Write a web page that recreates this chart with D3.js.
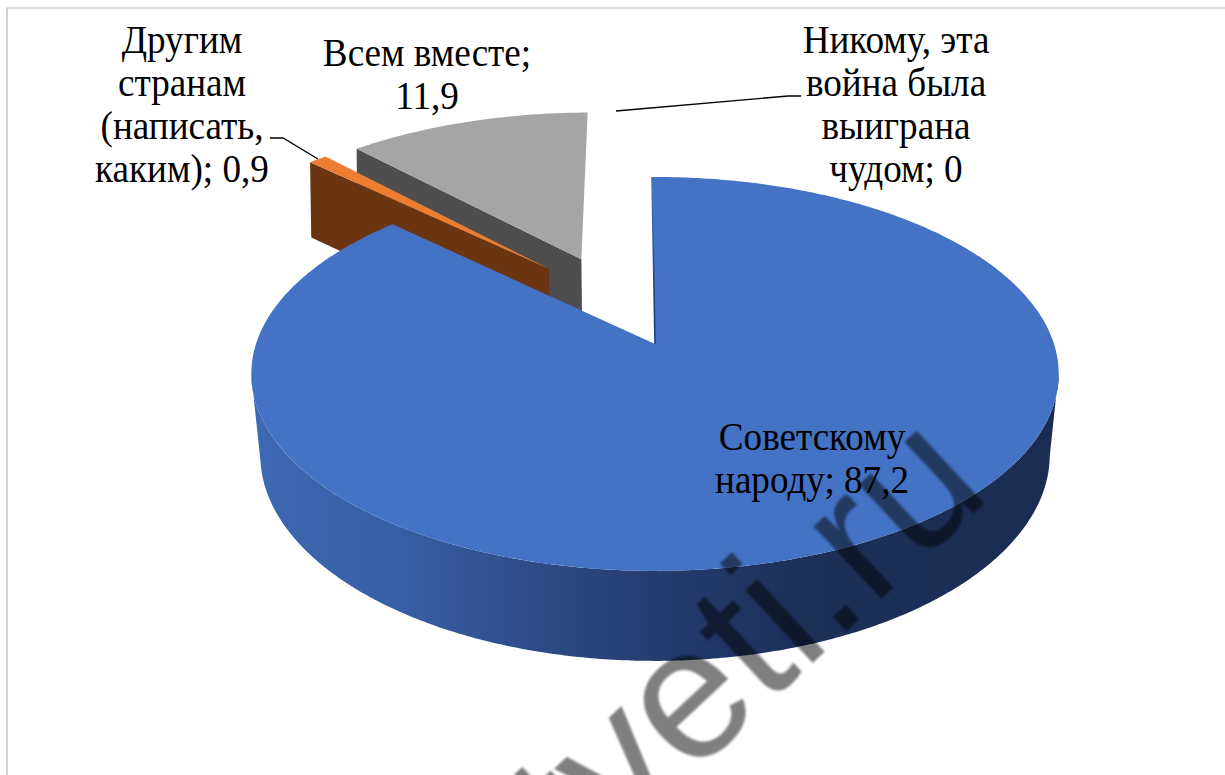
<!DOCTYPE html>
<html>
<head>
<meta charset="utf-8">
<style>
  html, body { margin: 0; padding: 0; background: #fff; overflow: hidden; }
  svg { display: block; }
  .label { font-family: "Liberation Serif", serif; font-size: 38.5px; fill: #000; text-anchor: middle; }
  .leader { fill: none; stroke: #000; stroke-width: 1.3; }
  .watermark { font-family: "Liberation Sans", sans-serif; font-size: 187px; fill: #000; fill-opacity: 0.5; }
</style>
</head>
<body>
<script src="https://cdn.jsdelivr.net/npm/d3@7"></script>
<script>

var categories = ["Советскому народу", "Другим странам (написать, каким)", "Всем вместе", "Никому, эта война была выиграна чудом"];
var values = [87.2, 0.9, 11.9, 0];
var labelLines = [
  ["Советскому", "народу; 87,2"],
  ["Другим", "странам", "(написать,", "каким); 0,9"],
  ["Всем вместе;", "11,9"],
  ["Никому, эта", "война была", "выиграна", "чудом; 0"]
];

var width = 1225, height = 775;
var cx = 655, cy = 344;          // pointed end of the big slice
var radiusX = 399, radiusY = 192.4, perspective = 0.152;
var explode = 0.256, turn = -0.5 * Math.PI / 180;

var topColors = d3.scaleOrdinal().domain(categories).range(["#4472c4", "#ed7d31", "#a5a5a5", "#ffc000"]);
var wallColors = d3.scaleOrdinal().domain(categories).range(["#1f3864", "#6b3512", "#4e4e4e", "#7f6000"]);

// where each label sits
var labelPlace = [
  { x: 812, y: 450 },
  { x: 182, y: 53 },
  { x: 427, y: 66 },
  { x: 896, y: 53 }
];
var leaders = [
  [[270, 138], [283, 138], [318, 159]],
  [[616, 111], [788, 96], [801, 96]]
];

var svg = d3.select("body").append("svg").attr("width", width).attr("height", height);
var defs = svg.append("defs");

var sideGrad = defs.append("linearGradient").attr("id", "side")
    .attr("gradientUnits", "userSpaceOnUse")
    .attr("x1", 252).attr("x2", 1060).attr("y1", 0).attr("y2", 0);
[[0, "#3e68b2"], [0.18, "#375fa5"], [0.32, "#304f8e"], [0.5, "#243c70"], [0.68, "#1c3058"], [1, "#1a2c52"]].forEach(function(s) {
  sideGrad.append("stop").attr("offset", s[0]).attr("stop-color", s[1]);
});
var edgeGrad = defs.append("linearGradient").attr("id", "edge")
    .attr("gradientUnits", "userSpaceOnUse")
    .attr("x1", 0).attr("x2", 0).attr("y1", 177).attr("y2", 344);
edgeGrad.append("stop").attr("offset", 0.1).attr("stop-color", "#4472c4");
edgeGrad.append("stop").attr("offset", 0.7).attr("stop-color", "#1f3f7c");
defs.append("filter").attr("id", "soft").append("feGaussianBlur").attr("stdDeviation", 1);

svg.append("path").attr("d", "M7,775V8H1225").attr("fill", "none").attr("stroke", "#b4b4b4").attr("stroke-width", 1.2);

var arcs = d3.pie().sort(null).startAngle(0).endAngle(2 * Math.PI)(values);

function dir(a) { return [Math.sin(a + turn), -Math.cos(a + turn)]; }

// plane coordinates to the page, top face of the pie
function project(u, v) {
  var w = 1 - perspective * v;
  return { x: cx + radiusX * u / w, y: cy + radiusY * v / w, v: v };
}
// same point on the bottom face
function drop(p) {
  var s = 0.98 - 0.015 * p.v;
  return [cx + (p.x - cx) * s, p.y + 83 + 7 * p.v];
}
function flat(p) { return [p.x, p.y]; }

function offset(d) {
  var mid = (d.startAngle + d.endAngle) / 2;
  var first = (arcs[0].startAngle + arcs[0].endAngle) / 2;
  var a = dir(mid), b = dir(first);
  return [explode * (a[0] - b[0]), explode * (a[1] - b[1])];
}
function rim(d, a) {
  var o = offset(d), e = dir(a);
  return project(o[0] + e[0], o[1] + e[1]);
}
function centre(d) {
  var o = offset(d);
  return project(o[0], o[1]);
}
function rimPoints(d, a0, a1) {
  var n = Math.max(2, Math.ceil(Math.abs(a1 - a0) / 0.01));
  return d3.range(n + 1).map(function(i) { return rim(d, a0 + (a1 - a0) * i / n); });
}

var line = d3.line();

// back slices first, the big one goes over them
var drawOrder = [2, 1];
drawOrder.forEach(function(i) {
  var d = arcs[i];
  var c = centre(d), r = rim(d, d.startAngle);
  svg.append("path")
      .attr("d", line([flat(r), flat(c), drop(c), drop(r)]) + "Z")
      .attr("fill", wallColors(categories[i]));
  svg.append("path")
      .attr("d", line([flat(c)].concat(rimPoints(d, d.startAngle, d.endAngle).map(flat))) + "Z")
      .attr("fill", topColors(categories[i]));
});

var big = arcs[0];
var tangent = Math.acos(-perspective);
var sideRim = rimPoints(big, tangent, 2 * Math.PI - tangent);
svg.append("path")
    .attr("d", line(sideRim.map(flat).concat(sideRim.map(drop).reverse())) + "Z")
    .attr("fill", "url(#side)");

var bigCentre = centre(big);
svg.append("path")
    .attr("d", line([flat(bigCentre)].concat(rimPoints(big, big.startAngle, big.endAngle).map(flat))) + "Z")
    .attr("fill", topColors(categories[0]));
svg.append("path")
    .attr("d", line([flat(rim(big, big.startAngle)), flat(bigCentre)]))
    .attr("fill", "none").attr("stroke", "url(#edge)").attr("stroke-width", 1.6);

// site watermark running across the lower right
svg.append("text").attr("class", "watermark")
    .attr("transform", "translate(507,948) rotate(-43)")
    .attr("filter", "url(#soft)")
    .text("otveti.ru");

svg.selectAll("path.leader").data(leaders).enter().append("path")
    .attr("class", "leader")
    .attr("d", line);

var labels = svg.selectAll("text.label").data(labelLines).enter().append("text")
    .attr("class", "label")
    .attr("transform", function(d, i) { return "translate(" + labelPlace[i].x + "," + labelPlace[i].y + ") scale(0.965,1.03)"; });
labels.selectAll("tspan").data(function(d) { return d; }).enter().append("tspan")
    .attr("x", 0)
    .attr("y", function(d, i) { return i * 41.8; })
    .text(function(d) { return d; });

</script>
</body>
</html>
